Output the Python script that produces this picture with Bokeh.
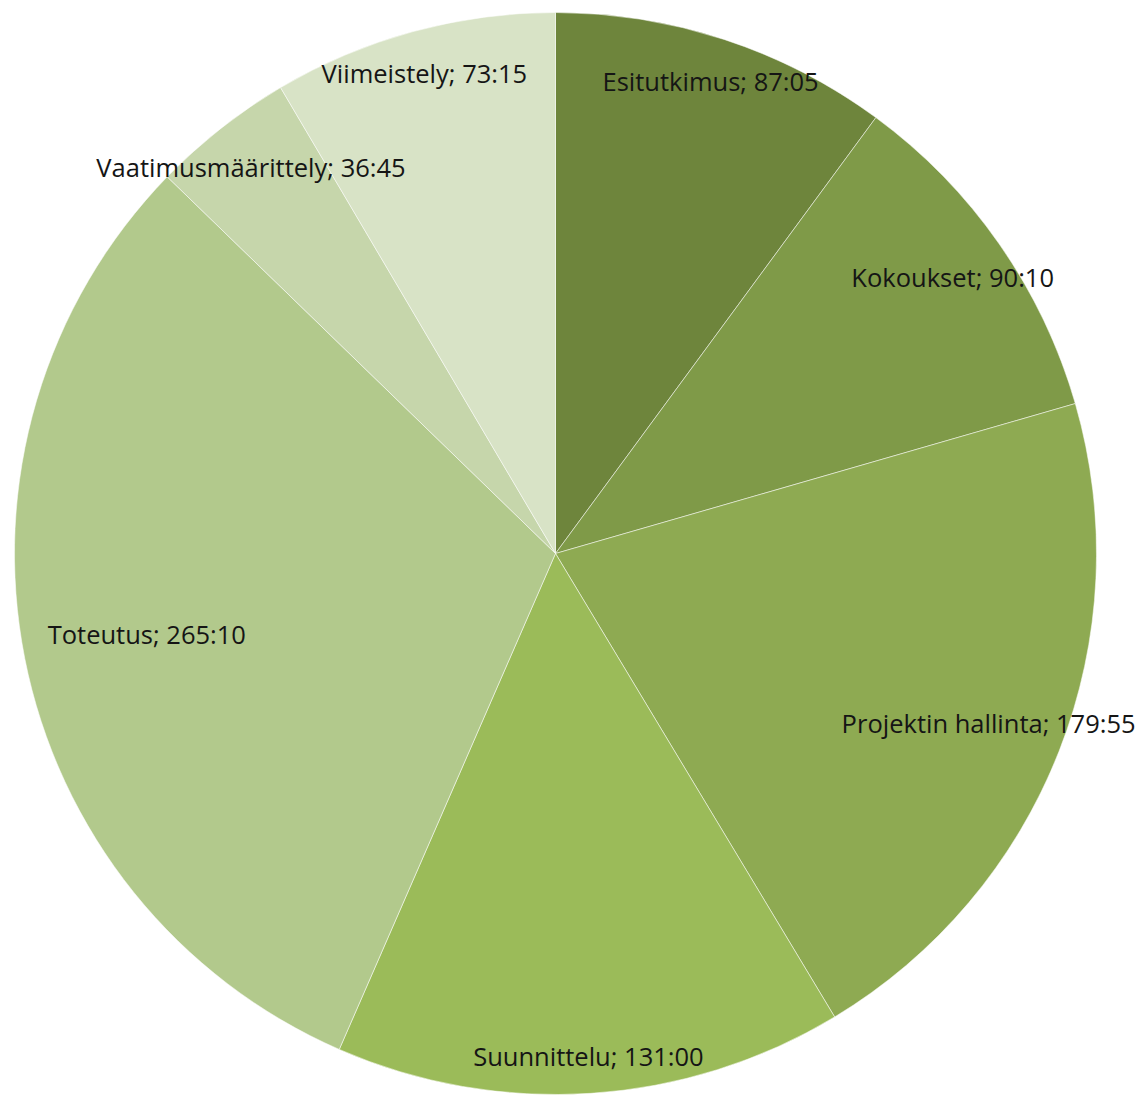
import numpy as np
from bokeh.plotting import figure
from bokeh.models import ColumnDataSource, Range1d
from bokeh.core.properties import value
from bokeh.embed import file_html
from bokeh.resources import INLINE

# --- data ---
categories = ["Esitutkimus", "Kokoukset", "Projektin hallinta", "Suunnittelu",
              "Toteutus", "Vaatimusmäärittely", "Viimeistely"]
durations = ["87:05", "90:10", "179:55", "131:00", "265:10", "36:45", "73:15"]
colors = ["#6E853C", "#7F9A48", "#8EAA52", "#9BBB59", "#B2C98C", "#C6D6AB", "#D8E3C6"]
label_radius = [0.92, 0.895, 0.86, 0.93, 0.77, 0.91, 0.92]

minutes = np.array([int(d.split(":")[0]) * 60 + int(d.split(":")[1]) for d in durations], dtype=float)
frac = minutes / minutes.sum()
cum_end = np.cumsum(frac)
cum_start = cum_end - frac
start_angle = np.pi / 2 - 2 * np.pi * cum_start
end_angle = np.pi / 2 - 2 * np.pi * cum_end
mid = np.pi / 2 - 2 * np.pi * (cum_start + frac / 2)

cx, cy, R = 555.0, -553.0, 541.0
lr = np.array(label_radius)
lx = cx + lr * R * np.cos(mid)
ly = cy + lr * R * np.sin(mid)
labels = [f"{c}; {d}" for c, d in zip(categories, durations)]

src = ColumnDataSource(dict(start=start_angle, end=end_angle, color=colors,
                            lx=lx, ly=ly, label=labels))

p = figure(width=1140, height=1095, output_backend="svg", toolbar_location=None,
           x_range=Range1d(0, 1140), y_range=Range1d(-1095, 0),
           min_border=0, outline_line_color=None)
p.axis.visible = False
p.grid.visible = False
p.background_fill_color = "white"

p.wedge(x=cx, y=cy, radius=R, start_angle="start", end_angle="end", direction="clock",
        fill_color="color", line_color="white", line_alpha=0.5, line_width=1, source=src)
p.text(x="lx", y="ly", text="label", source=src, text_align="center",
       text_baseline="middle", text_font=value("Open Sans"), text_font_size="25.5px",
       text_color="#151515")

open("out.html", "w").write(file_html(p, INLINE))
